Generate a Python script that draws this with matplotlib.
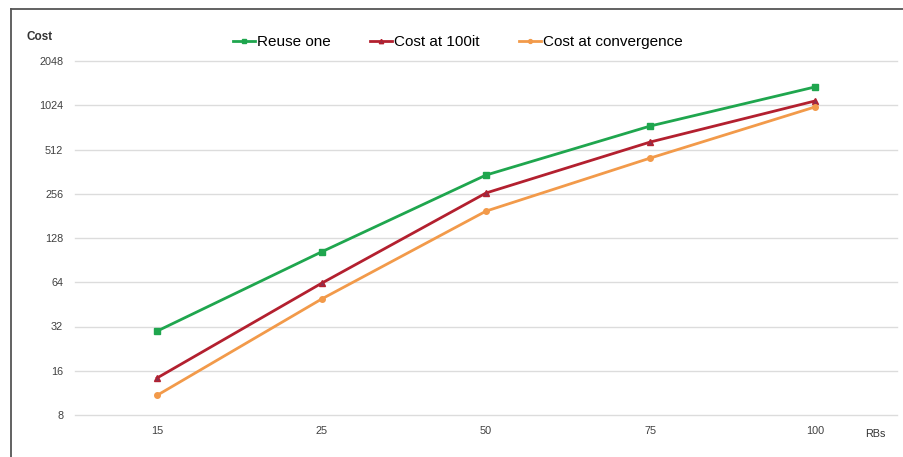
import matplotlib.pyplot as plt
from matplotlib.lines import Line2D

# data
rbs = ['15', '25', '50', '75', '100']
reuse_one = [29.8, 103, 343, 740, 1363]
cost_100it = [14.3, 63, 259, 576, 1094]
cost_conv = [10.9, 49.2, 195, 448, 996]
yticks = [8, 16, 32, 64, 128, 256, 512, 1024, 2048]

plt.rcParams['font.family'] = ['Liberation Sans', 'DejaVu Sans']

fig = plt.figure(figsize=(9.04, 4.57), dpi=100)
ax = fig.add_axes([75 / 904, 1 - 415 / 457, (897 - 75) / 904, (415 - 61) / 457])

x = list(range(len(rbs)))
ax.plot(x, reuse_one, color='#1fa64e', lw=2, marker='s', ms=4.5, label='Reuse one')
ax.plot(x, cost_100it, color='#b3202f', lw=2, marker='^', ms=4.5,
        markerfacecolor='#8a3050', label='Cost at 100it')
ax.plot(x, cost_conv, color='#f29a4a', lw=2, marker='o', ms=4, label='Cost at convergence')

ax.set_yscale('log', base=2)
ax.set_ylim(8, 2048)
ax.set_yticks(yticks)
ax.set_yticklabels([str(t) for t in yticks])
ax.minorticks_off()
ax.set_xlim(-0.5, 4.5)
ax.set_xticks(x)
ax.set_xticklabels(rbs)

ax.grid(axis='y', color='#dcdcdc', lw=1)
for gl in ax.get_ygridlines():
    gl.set_clip_on(False)
ax.set_axisbelow(True)
for s in ax.spines.values():
    s.set_visible(False)
ax.tick_params(length=0, labelsize=7.8, labelcolor='#404040')
ax.tick_params(axis='y', pad=8.5)
ax.tick_params(axis='x', pad=8)

# axis captions
fig.text(27 / 904, 1 - 37 / 457, 'Cost', fontsize=8.5, fontweight='bold',
         color='#333333', va='center')
fig.text(865 / 904, 1 - 434 / 457, 'RBs', fontsize=7.8, color='#333333', va='center')

ax.legend(loc='center', bbox_to_anchor=(458 / 904, 1 - 42 / 457),
          bbox_transform=fig.transFigure, ncol=3, frameon=False, fontsize=11,
          handlelength=1.4, handletextpad=0.15, columnspacing=2.6, markerscale=0.7)

# outer frame
fig.add_artist(Line2D([11 / 904, 1], [1 - 9 / 457, 1 - 9 / 457], color='#555555', lw=1.3))
fig.add_artist(Line2D([11 / 904, 11 / 904], [0, 1 - 9 / 457], color='#555555', lw=1.3))

fig.savefig('out.png', dpi=100)
